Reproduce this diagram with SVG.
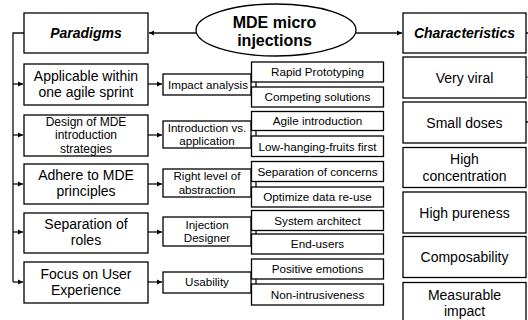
<svg xmlns="http://www.w3.org/2000/svg" width="528" height="320" viewBox="0 0 528 320">
<style>
.box{fill:#fff;stroke:#000;stroke-width:1.3}
.ln{fill:none;stroke:#111;stroke-width:1.3}
.t{font-family:"Liberation Sans",Arial,sans-serif;fill:#000;text-anchor:middle}
.h{font-size:14px;font-weight:bold;font-style:italic}
.l{font-size:14px}
.m{font-size:11.6px}
.s{font-size:11.7px}
.d{font-size:12px}
.e{font-size:16px;font-weight:bold}
</style>
<defs>
<marker id="ah" markerWidth="6" markerHeight="6" refX="5" refY="3" orient="auto" markerUnits="userSpaceOnUse">
<path d="M0,0.5 L5,3 L0,5.5 z" fill="#000"/>
</marker>
</defs>
<rect width="528" height="320" fill="#fff"/>
<g id="connectors">
<line class="ln" x1="197" y1="33" x2="149" y2="33" marker-end="url(#ah)"/>
<line class="ln" x1="356" y1="33" x2="402" y2="33" marker-end="url(#ah)"/>
<polyline class="ln" points="24,33 13,33 13,282"/>
<line class="ln" x1="13" y1="84" x2="23" y2="84" marker-end="url(#ah)"/>
<line class="ln" x1="13" y1="135" x2="23" y2="135" marker-end="url(#ah)"/>
<line class="ln" x1="13" y1="184" x2="23" y2="184" marker-end="url(#ah)"/>
<line class="ln" x1="13" y1="232" x2="23" y2="232" marker-end="url(#ah)"/>
<line class="ln" x1="13" y1="282" x2="23" y2="282" marker-end="url(#ah)"/>
<line class="ln" x1="148" y1="84" x2="162" y2="84" marker-end="url(#ah)"/>
<line class="ln" x1="148" y1="135" x2="162" y2="135" marker-end="url(#ah)"/>
<line class="ln" x1="148" y1="184" x2="162" y2="184" marker-end="url(#ah)"/>
<line class="ln" x1="148" y1="232" x2="162" y2="232" marker-end="url(#ah)"/>
<line class="ln" x1="148" y1="282" x2="162" y2="282" marker-end="url(#ah)"/>
<line class="ln" x1="256" y1="82" x2="256" y2="87"/>
<line class="ln" x1="256" y1="130.5" x2="256" y2="136"/>
<line class="ln" x1="256" y1="181.5" x2="256" y2="187"/>
<line class="ln" x1="256" y1="230.5" x2="256" y2="234"/>
<line class="ln" x1="256" y1="279" x2="256" y2="284"/>
<line class="ln" x1="526" y1="33" x2="528" y2="33"/>
<line class="ln" x1="526" y1="77" x2="528" y2="77" stroke-opacity="0.5"/>
<line class="ln" x1="526" y1="122" x2="528" y2="122"/>
</g>
<g id="root">
<ellipse class="box" cx="276" cy="30" rx="80" ry="26"/>
<text class="t e" x="274.5" y="28">MDE micro</text>
<text class="t e" x="274.5" y="46">injections</text>
</g>
<g id="paradigms"><rect class="box" x="24" y="13" width="124" height="40"/><text class="t h" x="86" y="38">Paradigms</text></g>
<g id="applicable"><rect class="box" x="24" y="64" width="124" height="41"/><text class="t l" x="86" y="81">Applicable within</text><text class="t l" x="86" y="97">one agile sprint</text></g>
<g id="design"><rect class="box" x="24" y="115" width="124" height="41"/><text class="t d" x="86" y="125.5">Design of MDE</text><text class="t d" x="86" y="139">introduction</text><text class="t d" x="86" y="152.5">strategies</text></g>
<g id="adhere"><rect class="box" x="24" y="164" width="124" height="40"/><text class="t l" x="86" y="180">Adhere to MDE</text><text class="t l" x="86" y="196">principles</text></g>
<g id="separation"><rect class="box" x="24" y="213" width="124" height="40"/><text class="t l" x="86" y="228.5">Separation of</text><text class="t l" x="86" y="245">roles</text></g>
<g id="focus"><rect class="box" x="24" y="262" width="124" height="41"/><text class="t l" x="86" y="278.5">Focus on User</text><text class="t l" x="86" y="295">Experience</text></g>
<g id="impact"><rect class="box" x="163" y="74" width="88" height="21"/><text class="t m" x="208" y="88.5">Impact analysis</text></g>
<g id="intro"><rect class="box" x="163" y="121" width="88" height="27"/><text class="t m" x="207" y="132">Introduction vs.</text><text class="t m" x="207" y="145">application</text></g>
<g id="rightlevel"><rect class="box" x="163" y="169" width="88" height="28"/><text class="t m" x="207" y="180">Right level of</text><text class="t m" x="207" y="193.5">abstraction</text></g>
<g id="injection"><rect class="box" x="163" y="217" width="88" height="29"/><text class="t m" x="207" y="228.5">Injection</text><text class="t m" x="207" y="242">Designer</text></g>
<g id="usability"><rect class="box" x="163" y="272" width="88" height="21"/><text class="t m" x="207" y="286">Usability</text></g>
<g id="rapid"><rect class="box" x="251.5" y="62" width="132" height="20"/><text class="t s" x="317.5" y="76">Rapid Prototyping</text></g>
<g id="competing"><rect class="box" x="251.5" y="87" width="132" height="20"/><text class="t s" x="317.5" y="101">Competing solutions</text></g>
<g id="agile"><rect class="box" x="251.5" y="111.5" width="132" height="19"/><text class="t s" x="317.5" y="125">Agile introduction</text></g>
<g id="lowhanging"><rect class="box" x="251.5" y="136" width="132" height="20.5"/><text class="t s" x="317.5" y="150.5">Low-hanging-fruits first</text></g>
<g id="sepconcerns"><rect class="box" x="251.5" y="161.5" width="132" height="20"/><text class="t s" x="317.5" y="175.5">Separation of concerns</text></g>
<g id="optimize"><rect class="box" x="251.5" y="187" width="132" height="20"/><text class="t s" x="317.5" y="201">Optimize data re-use</text></g>
<g id="architect"><rect class="box" x="251.5" y="210.5" width="132" height="20"/><text class="t s" x="317.5" y="224.5">System architect</text></g>
<g id="endusers"><rect class="box" x="251.5" y="234" width="132" height="20"/><text class="t s" x="317.5" y="248">End-users</text></g>
<g id="positive"><rect class="box" x="251.5" y="259" width="132" height="20"/><text class="t s" x="317.5" y="273">Positive emotions</text></g>
<g id="nonintrusive"><rect class="box" x="251.5" y="284" width="132" height="21"/><text class="t s" x="317.5" y="298.5">Non-intrusiveness</text></g>
<g id="characteristics"><rect class="box" x="403" y="13" width="123" height="40"/><text class="t h" x="464.5" y="38">Characteristics</text></g>
<g id="viral"><rect class="box" x="403" y="57" width="123" height="41"/><text class="t l" x="464.5" y="82.5">Very viral</text></g>
<g id="doses"><rect class="box" x="403" y="102" width="123" height="41"/><text class="t l" x="464.5" y="127.5">Small doses</text></g>
<g id="concentration"><rect class="box" x="403" y="147.5" width="123" height="40"/><text class="t l" x="464.5" y="164">High</text><text class="t l" x="464.5" y="181">concentration</text></g>
<g id="pureness"><rect class="box" x="403" y="192" width="123" height="41"/><text class="t l" x="464.5" y="217.5">High pureness</text></g>
<g id="composability"><rect class="box" x="403" y="236.5" width="123" height="41"/><text class="t l" x="464.5" y="262">Composability</text></g>
<g id="measurable"><rect class="box" x="403" y="282.5" width="123" height="42"/><text class="t l" x="464.5" y="300">Measurable</text><text class="t l" x="464.5" y="316">impact</text></g>
</svg>
